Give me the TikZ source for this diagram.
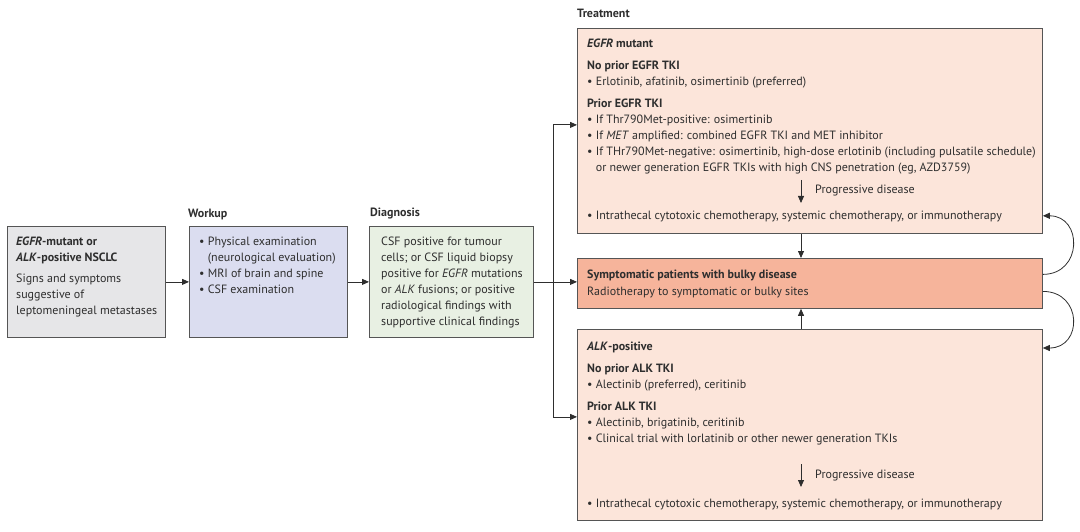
\documentclass[tikz,border=0pt]{standalone}
\usepackage{fontspec}
\setmainfont{PT Sans}
\usetikzlibrary{arrows.meta, calc}
\definecolor{ink}{HTML}{2E2E2E}
\definecolor{edge}{HTML}{555555}
\definecolor{greybox}{HTML}{E6E6E8}
\definecolor{lilac}{HTML}{DBDDF0}
\definecolor{mint}{HTML}{E8F0E3}
\definecolor{peach}{HTML}{FCE5DA}
\definecolor{salmon}{HTML}{F6B49B}

\begin{document}
\begin{tikzpicture}[
  x=1pt, y=-1pt,
  >={Triangle[length=7pt, width=6pt]},
  box/.style={draw=edge, line width=0.8pt, inner sep=0pt, anchor=north west},
  txt/.style={text=ink, font=\fontsize{12}{16}\selectfont, align=left, inner sep=0pt, anchor=base west},
  mtxt/.style={txt, anchor=north west, execute at begin node=\strut},
  conn/.style={draw=ink, line width=0.8pt},
]

\useasboundingbox (0,0) rectangle (1080,532);

% ========================================
% Left: patients, workup, diagnosis
% ========================================
\node[box, fill=greybox, minimum width=158pt, minimum height=111pt] (nsclc) at (7,226) {};
\node[mtxt] (nsclctxt) at (16,237)
  {\textbf{\textit{EGFR}-mutant or}\\ \textbf{\textit{ALK}-positive NSCLC}\\[5pt]
   Signs and symptoms\\ suggestive of\\ leptomeningeal metastases};

\node[txt, font=\fontsize{12}{16}\selectfont\bfseries] (workuplbl) at (188,218) {Workup};
\node[box, fill=lilac, minimum width=158pt, minimum height=111pt] (workup) at (189,226) {};
\node[mtxt] (workuptxt) at (199,237)
  {\textbullet{} Physical examination\\ \hphantom{\textbullet{} }(neurological evaluation)\\
   \textbullet{} MRI of brain and spine\\ \textbullet{} CSF examination};

\node[txt, font=\fontsize{12}{16}\selectfont\bfseries] (diaglbl) at (370,217) {Diagnosis};
\node[box, fill=mint, minimum width=164pt, minimum height=111pt] (diag) at (369,226) {};
\node[mtxt] (diagtxt) at (381,237)
  {CSF positive for tumour\\ cells; or CSF liquid biopsy\\ positive for \textit{EGFR} mutations\\
   or \textit{ALK} fusions; or positive\\ radiological findings with\\ supportive clinical findings};

% ========================================
% Right: treatment
% ========================================
\node[txt, font=\fontsize{12}{16}\selectfont\bfseries] (treatlbl) at (577,18) {Treatment};

% EGFR mutant
\node[box, fill=peach, minimum width=465pt, minimum height=205pt] (egfr) at (577,28) {};
\node[mtxt] (egfrtxt) at (587,39)
  {\textbf{\textit{EGFR} mutant}\\[6pt]
   \textbf{No prior EGFR TKI}\\
   \textbullet{} Erlotinib, afatinib, osimertinib (preferred)\\[6pt]
   \textbf{Prior EGFR TKI}\\
   \textbullet{} If Thr790Met-positive: osimertinib\\
   \textbullet{} If \textit{MET} amplified: combined EGFR TKI and MET inhibitor\\
   \textbullet{} If THr790Met-negative: osimertinib, high-dose erlotinib (including pulsatile schedule)\\
   \hphantom{\textbullet{} }or newer generation EGFR TKIs with high CNS penetration (eg, AZD3759)};
\coordinate (egfrpda) at (801,180);
\coordinate (egfrpdb) at (801,203);
\draw[conn, ->] (egfrpda) -- (egfrpdb);
\node[txt] (egfrpd) at (815,194) {Progressive disease};
\node[txt] (egfrnext) at (587,220)
  {\textbullet{} Intrathecal cytotoxic chemotherapy, systemic chemotherapy, or immunotherapy};

% Bulky disease
\node[box, fill=salmon, minimum width=465pt, minimum height=50pt] (symp) at (577,258) {};
\node[mtxt] (symptxt) at (587,270)
  {\textbf{Symptomatic patients with bulky disease}\\[1pt] Radiotherapy to symptomatic or bulky sites};

% ALK positive
\node[box, fill=peach, minimum width=465pt, minimum height=191pt] (alk) at (577,329) {};
\node[mtxt] (alktxt) at (587,342)
  {\textbf{\textit{ALK}-positive}\\[6pt]
   \textbf{No prior ALK TKI}\\
   \textbullet{} Alectinib (preferred), ceritinib\\[6pt]
   \textbf{Prior ALK TKI}\\
   \textbullet{} Alectinib, brigatinib, ceritinib\\
   \textbullet{} Clinical trial with lorlatinib or other newer generation TKIs};
\coordinate (alkpda) at (801,464);
\coordinate (alkpdb) at (801,487);
\draw[conn, ->] (alkpda) -- (alkpdb);
\node[txt] (alkpd) at (815,478) {Progressive disease};
\node[txt] (alknext) at (587,507)
  {\textbullet{} Intrathecal cytotoxic chemotherapy, systemic chemotherapy, or immunotherapy};

% ========================================
% Connectors
% ========================================
\coordinate (trunk) at (553,0);
\coordinate (midcol) at (801,0);

\draw[conn, ->] (nsclc) -- (workup);
\draw[conn, ->] (workup) -- (diag);
\draw[conn, ->] (diag.east) -- (diag.east -| symp.west);
\draw[conn, ->] (diag.east -| trunk) |- ([yshift=6pt]egfr.west);
\draw[conn, ->] (diag.east -| trunk) |- ([yshift=8pt]alk.west);

\draw[conn, ->] (egfr.south -| midcol) -- (symp.north -| midcol);
\draw[conn, ->] (alk.north -| midcol) -- (symp.south -| midcol);

% loops back to the systemic boxes
\draw[conn, ->] ([yshift=9pt]symp.east) .. controls +(40,0) and +(40,0) .. ([yshift=18pt]egfr.south east);
\draw[conn, ->] ([yshift=-8pt]symp.east) .. controls +(40,0) and +(40,0) .. ([yshift=-19pt]alk.north east);

\end{tikzpicture}
\end{document}
